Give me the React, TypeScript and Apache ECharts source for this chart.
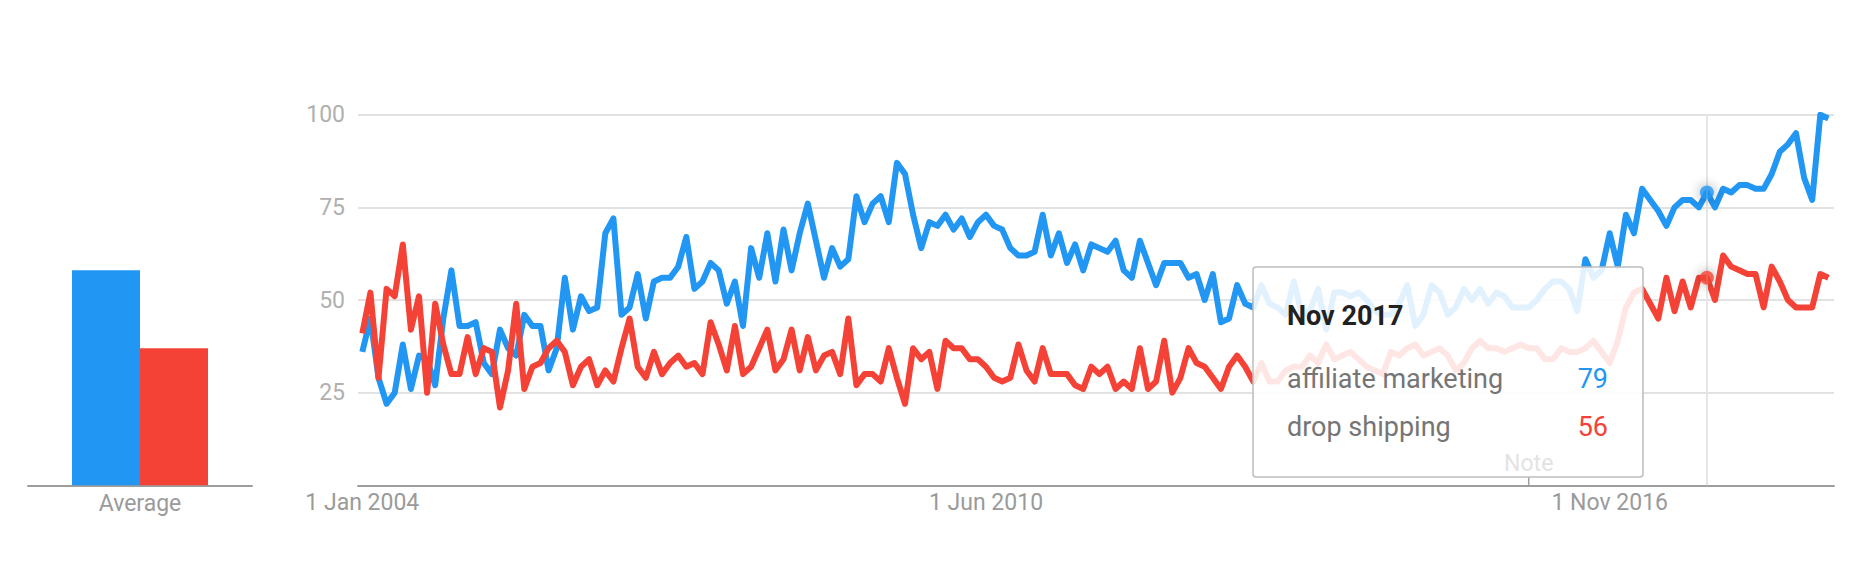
import React, { useEffect, useRef } from "react";
import * as echarts from "echarts";

const seriesNames = ["affiliate marketing", "drop shipping"];
const seriesColors = ["#2196F3", "#F44336"];

// Monthly interest, Jan 2004 .. Feb 2019
const affiliateMarketing = [
  36, 45, 29, 22, 25, 38, 26, 35, 34, 27,
  45, 58, 43, 43, 44, 33, 30, 42, 37, 35,
  46, 43, 43, 31, 37, 56, 42, 51, 47, 48,
  68, 72, 46, 48, 57, 45, 55, 56, 56, 59,
  67, 53, 55, 60, 58, 49, 55, 43, 64, 56,
  68, 55, 69, 58, 68, 76, 66, 56, 64, 59,
  61, 78, 71, 76, 78, 71, 87, 84, 73, 64,
  71, 70, 73, 69, 72, 67, 71, 73, 70, 69,
  64, 62, 62, 63, 73, 62, 68, 60, 65, 58,
  65, 64, 63, 66, 58, 56, 66, 60, 54, 60,
  60, 60, 56, 57, 50, 57, 44, 45, 54, 49,
  48, 54, 49, 48, 46, 55, 46, 47, 53, 42,
  52, 52, 51, 52, 50, 47, 46, 46, 49, 54,
  43, 46, 54, 52, 46, 48, 53, 50, 53, 49,
  52, 51, 48, 48, 48, 50, 53, 55, 55, 53,
  47, 61, 56, 58, 68, 59, 73, 68, 80, 77,
  74, 70, 75, 77, 77, 75, 79, 75, 80, 79,
  81, 81, 80, 80, 84, 90, 92, 95, 83, 77,
  100, 99,
];

const dropShipping = [
  41, 52, 29, 53, 51, 65, 42, 51, 25, 49,
  38, 30, 30, 40, 30, 37, 36, 21, 31, 49,
  26, 32, 33, 37, 39, 36, 27, 32, 34, 27,
  31, 28, 37, 45, 32, 29, 36, 30, 33, 35,
  32, 33, 30, 44, 38, 31, 43, 30, 32, 37,
  42, 31, 34, 42, 31, 40, 31, 35, 36, 30,
  45, 27, 30, 30, 28, 37, 29, 22, 37, 34,
  36, 26, 39, 37, 37, 34, 34, 32, 29, 28,
  29, 38, 31, 28, 37, 30, 30, 30, 27, 26,
  32, 30, 32, 26, 28, 26, 37, 26, 28, 39,
  25, 29, 37, 33, 32, 29, 26, 32, 35, 32,
  28, 33, 28, 28, 31, 32, 32, 35, 33, 38,
  34, 35, 36, 34, 32, 31, 30, 36, 35, 37,
  38, 35, 36, 37, 35, 31, 33, 37, 39, 37,
  37, 36, 37, 38, 37, 37, 34, 34, 37, 36,
  36, 37, 39, 36, 33, 39, 48, 52, 53, 49,
  45, 56, 47, 55, 48, 56, 56, 50, 62, 59,
  58, 57, 57, 48, 59, 55, 50, 48, 48, 48,
  57, 56,
];

const averageCategory = ["Average"];
const averages = [58, 37];

const xTickIndices = [0, 77, 154];
const xTickLabels = ["1 Jan 2004", "1 Jun 2010", "1 Nov 2016"];

const hoverIndex = 166;
const hoverLabel = "Nov 2017";
const noteIndex = 144;
const noteLabel = "Note";

const FONT = "Roboto, 'Noto Sans', sans-serif";

export default function App() {
  const ref = useRef<HTMLDivElement>(null);

  useEffect(() => {
    document.body.style.margin = "0";
    const chart = echarts.init(ref.current!, null, { renderer: "svg" });

    const lineData = [affiliateMarketing, dropShipping];

    const option: any = {
      animation: false,
      textStyle: { fontFamily: FONT },
      grid: [
        { left: 358, top: 114.7, width: 1476, height: 370.6 },
        { left: 28, top: 114.7, width: 224, height: 370.6 },
      ],
      xAxis: [
        {
          type: "value",
          gridIndex: 0,
          min: -0.531,
          max: 181.69,
          splitLine: { show: false },
          axisTick: { show: false },
          axisLine: { show: true, lineStyle: { color: "#9e9e9e", width: 2 } },
          axisLabel: {
            customValues: xTickIndices,
            formatter: (v: number) => {
              const k = xTickIndices.indexOf(Math.round(v));
              return k >= 0 ? xTickLabels[k] : "";
            },
            color: "#9a9a9a",
            fontSize: 23,
            fontFamily: FONT,
            margin: 6,
          },
        },
        {
          type: "category",
          gridIndex: 1,
          data: averageCategory,
          axisTick: { show: false },
          axisLine: { show: true, lineStyle: { color: "#9e9e9e", width: 2 } },
          axisLabel: { color: "#9a9a9a", fontSize: 23, fontFamily: FONT, margin: 7 },
        },
      ],
      yAxis: [
        {
          type: "value",
          gridIndex: 0,
          min: 0,
          max: 100,
          interval: 25,
          axisLine: { show: false },
          axisTick: { show: false },
          axisLabel: {
            color: "#b0b0b0",
            fontSize: 23,
            fontFamily: FONT,
            margin: 13,
            formatter: (v: number) => (v === 0 ? "" : String(v)),
          },
          splitLine: { lineStyle: { color: "#e2e2e2", width: 2 } },
        },
        {
          type: "value",
          gridIndex: 1,
          min: 0,
          max: 100,
          show: false,
          splitLine: { show: false },
        },
      ],
      series: [
        {
          type: "line",
          xAxisIndex: 0,
          yAxisIndex: 0,
          data: [],
          z: 1,
          silent: true,
          markLine: {
            symbol: ["none", "none"],
            silent: true,
            label: { show: false },
            lineStyle: { color: "#e6e6e6", width: 2, type: "solid" },
            data: [{ xAxis: hoverIndex }],
          },
        },
        ...lineData.map((d, k) => ({
          name: seriesNames[k],
          type: "line",
          xAxisIndex: 0,
          yAxisIndex: 0,
          data: d.map((v, i) => [i, v]),
          showSymbol: false,
          z: 3 + k,
          lineStyle: { color: seriesColors[k], width: 6, join: "round" },
          itemStyle: { color: seriesColors[k] },
        })),
        ...lineData.map((d, k) => ({
          type: "scatter",
          xAxisIndex: 0,
          yAxisIndex: 0,
          data: [[hoverIndex, d[hoverIndex]]],
          symbolSize: 14,
          z: 6,
          itemStyle: {
            color: seriesColors[k],
            shadowBlur: 12,
            shadowColor: "rgba(0,0,0,0.45)",
          },
        })),
        ...averages.map((v, k) => ({
          name: seriesNames[k],
          type: "bar",
          xAxisIndex: 1,
          yAxisIndex: 1,
          data: [v],
          barWidth: 68,
          barGap: "0%",
          itemStyle: { color: seriesColors[k] },
        })),
      ],
    };

    chart.setOption(option);

    const notePx = chart.convertToPixel({ gridIndex: 0 } as any, [noteIndex, 0]) as number[];
    const nx = notePx[0];
    const axisY = notePx[1];

    const box = { x: 1253, y: 267, w: 390, h: 210 };
    const textLeft = box.x + 34;
    const valueRight = 1608;
    const rowY = [378.5, 427];

    chart.setOption({
      graphic: [
        {
          type: "line",
          z: 100,
          shape: { x1: nx, y1: box.y + box.h, x2: nx, y2: axisY },
          style: { stroke: "#9e9e9e", lineWidth: 1.5 },
        },
        {
          type: "rect",
          z: 100,
          shape: { x: box.x, y: box.y, width: box.w, height: box.h, r: 3 },
          style: { fill: "rgba(255,255,255,0.87)", stroke: "#bdbdbd", lineWidth: 1.5 },
        },
        {
          type: "text",
          z: 101,
          x: nx,
          y: 463,
          style: {
            text: noteLabel,
            fill: "#e3e3e3",
            fontSize: 23,
            fontFamily: FONT,
            align: "center",
            verticalAlign: "middle",
            textAlign: "center",
            textVerticalAlign: "middle",
          },
        },
        {
          type: "text",
          z: 101,
          x: textLeft,
          y: 315.5,
          style: {
            text: hoverLabel,
            fill: "#212121",
            fontSize: 27,
            fontWeight: "bold",
            fontFamily: FONT,
            align: "left",
            verticalAlign: "middle",
            textAlign: "left",
            textVerticalAlign: "middle",
          },
        },
        ...seriesNames.map((name, k) => ({
          type: "text",
          z: 101,
          x: textLeft,
          y: rowY[k],
          style: {
            text: name,
            fill: "#757575",
            fontSize: 27,
            fontFamily: FONT,
            align: "left",
            verticalAlign: "middle",
            textAlign: "left",
            textVerticalAlign: "middle",
          },
        })),
        ...lineData.map((d, k) => ({
          type: "text",
          z: 101,
          x: valueRight,
          y: rowY[k],
          style: {
            text: String(d[hoverIndex]),
            fill: seriesColors[k],
            fontSize: 27,
            fontFamily: FONT,
            align: "right",
            verticalAlign: "middle",
            textAlign: "right",
            textVerticalAlign: "middle",
          },
        })),
      ],
    });

    return () => chart.dispose();
  }, []);

  return <div ref={ref} style={{ width: 1874, height: 564 }} />;
}
